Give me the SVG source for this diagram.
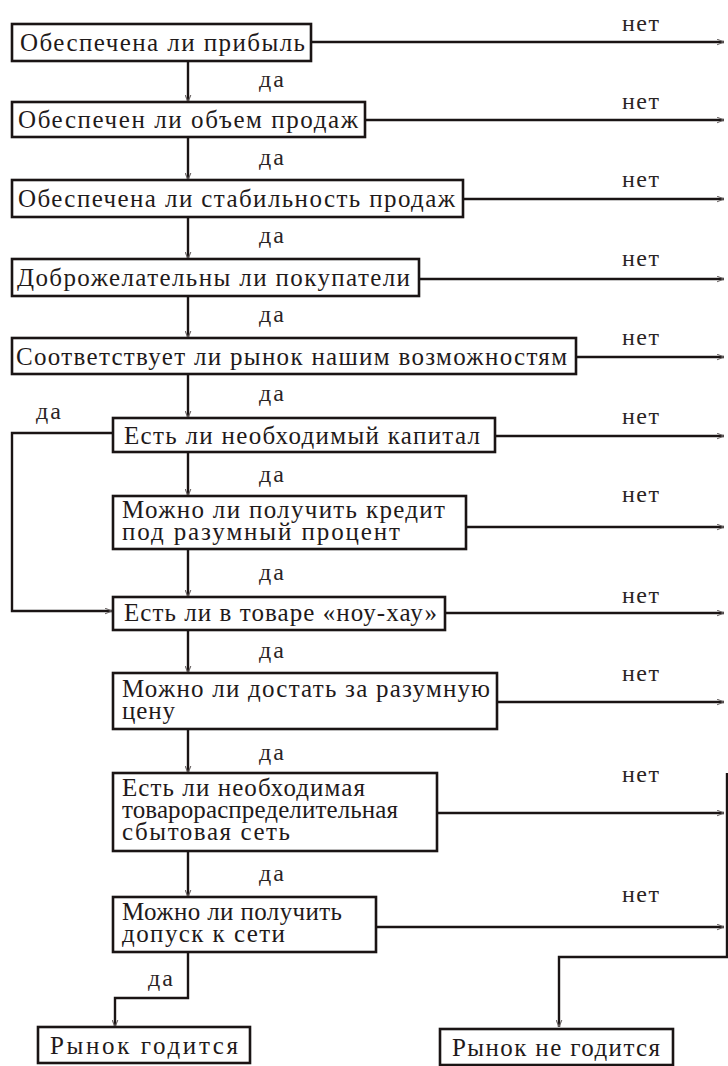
<svg xmlns="http://www.w3.org/2000/svg" width="728" height="1066" viewBox="0 0 728 1066">
  <style>
    .box { fill: #fff; stroke: #1a1414; stroke-width: 2.6; }
    .t { font-family: "Liberation Serif", "DejaVu Serif", serif; font-size: 25px; fill: #1f1a1a; }
    .lbl { font-family: "Liberation Serif", "DejaVu Serif", serif; font-size: 24px; fill: #2a2424; }
    .ln { fill: none; stroke: #1a1414; stroke-width: 2.4; }
  </style>
  <defs>
    <marker id="arr" viewBox="0 0 10 10" refX="10" refY="5" markerWidth="7" markerHeight="7" markerUnits="userSpaceOnUse" orient="auto">
      <path d="M0,1 L10,5 L0,9" fill="none" stroke="#6a6464" stroke-width="1.6"/>
    </marker>
  </defs>
  <rect width="728" height="1066" fill="#fff"/>

  <!-- connectors -->
  <g id="connectors">
    <!-- yes: main vertical chain -->
    <path class="ln" d="M188,61 V102" marker-end="url(#arr)"/>
    <path class="ln" d="M188,137 V180" marker-end="url(#arr)"/>
    <path class="ln" d="M188,217 V259" marker-end="url(#arr)"/>
    <path class="ln" d="M188,296 V338" marker-end="url(#arr)"/>
    <path class="ln" d="M188,374 V418" marker-end="url(#arr)"/>
    <path class="ln" d="M188,452 V496" marker-end="url(#arr)"/>
    <path class="ln" d="M188,549 V597" marker-end="url(#arr)"/>
    <path class="ln" d="M188,630 V673" marker-end="url(#arr)"/>
    <path class="ln" d="M188,729 V773" marker-end="url(#arr)"/>
    <path class="ln" d="M188,851 V897" marker-end="url(#arr)"/>
    <!-- yes: capital available, skip the credit question -->
    <path class="ln" d="M113,433 H12 V611 H112" marker-end="url(#arr)"/>
    <!-- yes: market is suitable -->
    <path class="ln" d="M188,952 V998 H115 V1027" marker-end="url(#arr)"/>
    <!-- no branches -->
    <path class="ln" d="M311,42 H724" marker-end="url(#arr)"/>
    <path class="ln" d="M365,120 H724" marker-end="url(#arr)"/>
    <path class="ln" d="M463,199 H724" marker-end="url(#arr)"/>
    <path class="ln" d="M419,279 H724" marker-end="url(#arr)"/>
    <path class="ln" d="M576,357 H724" marker-end="url(#arr)"/>
    <path class="ln" d="M495,436 H724" marker-end="url(#arr)"/>
    <path class="ln" d="M466,527 H724" marker-end="url(#arr)"/>
    <path class="ln" d="M445,613 H724" marker-end="url(#arr)"/>
    <path class="ln" d="M497,702 H724" marker-end="url(#arr)"/>
    <path class="ln" d="M437,813 H724" marker-end="url(#arr)"/>
    <path class="ln" d="M376,927 H724" marker-end="url(#arr)"/>
    <path class="ln" d="M727,773 V957 H559 V1027" marker-end="url(#arr)"/>

    <!-- branch labels -->
    <g class="lbl">
      <text x="622" y="31" textLength="37">нет</text>
      <text x="622" y="109" textLength="37">нет</text>
      <text x="622" y="187" textLength="37">нет</text>
      <text x="622" y="266" textLength="37">нет</text>
      <text x="622" y="345" textLength="37">нет</text>
      <text x="622" y="424" textLength="37">нет</text>
      <text x="622" y="502" textLength="37">нет</text>
      <text x="622" y="603" textLength="37">нет</text>
      <text x="622" y="681" textLength="37">нет</text>
      <text x="622" y="782" textLength="37">нет</text>
      <text x="622" y="902" textLength="37">нет</text>

      <text x="259" y="87" textLength="25">да</text>
      <text x="259" y="165" textLength="25">да</text>
      <text x="259" y="243" textLength="25">да</text>
      <text x="259" y="322" textLength="25">да</text>
      <text x="259" y="401" textLength="25">да</text>
      <text x="259" y="482" textLength="25">да</text>
      <text x="259" y="580" textLength="25">да</text>
      <text x="259" y="658" textLength="25">да</text>
      <text x="259" y="760" textLength="25">да</text>
      <text x="259" y="881" textLength="25">да</text>
      <text x="36" y="419" textLength="25">да</text>
      <text x="148" y="986" textLength="25">да</text>
    </g>
  </g>

  <g id="n1">
    <rect class="box" x="12" y="24" width="299" height="37"/>
    <text class="t" x="20" y="51" textLength="285">Обеспечена ли прибыль</text>
  </g>
  <g id="n2">
    <rect class="box" x="12" y="102" width="353" height="35"/>
    <text class="t" x="18" y="128" textLength="340">Обеспечен ли объем продаж</text>
  </g>
  <g id="n3">
    <rect class="box" x="12" y="180" width="451" height="37"/>
    <text class="t" x="18" y="207" textLength="437">Обеспечена ли стабильность продаж</text>
  </g>
  <g id="n4">
    <rect class="box" x="12" y="259" width="407" height="37"/>
    <text class="t" x="17" y="286" textLength="393">Доброжелательны ли покупатели</text>
  </g>
  <g id="n5">
    <rect class="box" x="12" y="338" width="564" height="36"/>
    <text class="t" x="16" y="365" textLength="551">Соответствует ли рынок нашим возможностям</text>
  </g>
  <g id="n6">
    <rect class="box" x="113" y="418" width="382" height="34"/>
    <text class="t" x="124" y="444" textLength="356">Есть ли необходимый капитал</text>
  </g>
  <g id="n7">
    <rect class="box" x="113" y="496" width="353" height="53"/>
    <text class="t"><tspan x="122" y="518" textLength="323">Можно ли получить кредит</tspan><tspan x="122" y="540" textLength="278">под разумный процент</tspan></text>
  </g>
  <g id="n8">
    <rect class="box" x="113" y="597" width="332" height="33"/>
    <text class="t" x="124" y="621" textLength="313">Есть ли в товаре «ноу-хау»</text>
  </g>
  <g id="n9">
    <rect class="box" x="113" y="673" width="384" height="56"/>
    <text class="t"><tspan x="122" y="697" textLength="368">Можно ли достать за разумную</tspan><tspan x="122" y="719" textLength="53">цену</tspan></text>
  </g>
  <g id="n10">
    <rect class="box" x="113" y="773" width="324" height="78"/>
    <text class="t"><tspan x="122" y="796" textLength="243">Есть ли необходимая</tspan><tspan x="122" y="818" textLength="276">товарораспределительная</tspan><tspan x="122" y="840" textLength="168">сбытовая сеть</tspan></text>
  </g>
  <g id="n11">
    <rect class="box" x="113" y="897" width="263" height="55"/>
    <text class="t"><tspan x="122" y="920" textLength="220">Можно ли получить</tspan><tspan x="122" y="942" textLength="163">допуск к сети</tspan></text>
  </g>
  <g id="yes">
    <rect class="box" x="38" y="1027" width="212" height="36"/>
    <text class="t" x="50" y="1054" textLength="188">Рынок годится</text>
  </g>
  <g id="no">
    <rect class="box" x="440" y="1029" width="233" height="36"/>
    <text class="t" x="452" y="1056" textLength="208">Рынок не годится</text>
  </g>
</svg>
